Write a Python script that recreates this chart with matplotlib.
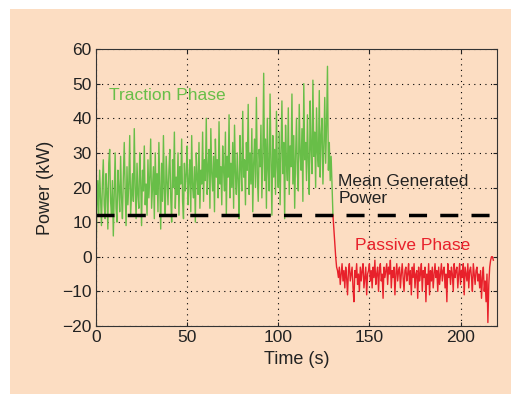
import numpy as np
import matplotlib
matplotlib.use("Agg")
import matplotlib.pyplot as plt
from matplotlib.patches import Rectangle

# Power samples, 0.5 s apart
traction_power = [
    0, 14, 22, 12, 25, 17, 9, 21, 28, 15, 11, 24, 19, 8, 27, 31, 16, 12, 22, 6,
    18, 30, 14, 10, 25, 20, 13, 29, 17, 11, 23, 33, 19, 9, 26, 15, 21, 35, 12, 18,
    24, 16, 37, 20, 11, 27, 18, 14, 30, 22, 9, 25, 19, 32, 15, 21, 12, 28, 17, 23,
    34, 14, 20, 26, 11, 30, 18, 24, 13, 33, 21, 8, 27, 16, 35, 19, 12, 29, 22, 15,
    25, 31, 17, 10, 28, 20, 36, 14, 23, 18, 30, 12, 26, 21, 34, 16, 11, 27, 19, 24,
    32, 15, 22, 28, 13, 35, 20, 17, 26, 10, 30, 23, 18, 33, 14, 25, 21, 36, 16, 28,
    22, 40, 18, 26, 31, 14, 37, 24, 19, 29, 13, 34, 23, 28, 17, 39, 21, 26, 15, 32,
    25, 19, 36, 12, 29, 23, 41, 17, 27, 20, 33, 14, 38, 24, 18, 30, 22, 11, 35, 26,
    19, 42, 23, 28, 15, 33, 25, 44, 18, 30, 21, 37, 13, 27, 34, 20, 46, 24, 16, 31,
    26, 38, 17, 29, 53, 22, 34, 14, 40, 25, 19, 47, 28, 12, 35, 23, 31, 18, 42, 26,
    20, 36, 15, 30, 45, 24, 33, 11, 38, 27, 22, 43, 18, 32, 26, 47, 21, 35, 14, 29,
    40, 24, 19, 44, 30, 25, 37, 16, 50, 28, 33, 22, 41, 27, 18, 45, 31, 24, 51, 29,
    36, 20, 43, 30, 26, 48, 23, 35, 40, 21, 32, 46, 27, 38, 55, 25, 33, 22, 29, 20,
    12,
]
passive_power = [
    12, 8, 4, 0, -3, -4, -6, -3, -8, -5, -2, -7, -4, -9, -3, -6, -11, -4, -2, -7,
    -5, -3, -9, -13, -4, -6, -2, -8, -5, -10, -3, -7, -4, -2, -9, -6, -3, -11, -5, -4,
    -2, -7, -4, -9, -3, -6, -1, -8, -5, -3, -10, -4, -2, -7, -5, -12, -3, -6, -4, -2,
    -8, -3, -5, -1, -9, -4, -6, -3, -11, -5, -2, -7, -4, -3, -9, -5, -2, -6, -10, -4,
    -3, -7, -5, -2, -8, -4, -11, -3, -6, -2, -9, -5, -4, -12, -3, -7, -5, -2, -10, -4,
    -6, -3, -13, -5, -8, -2, -11, -4, -7, -3, -9, -5, -2, -6, -4, -10, -3, -8, -5, -2,
    -7, -4, -3, -9, -5, -13, -2, -6, -4, -8, -3, -5, -10, -2, -6, -4, -3, -9, -5, -2,
    -8, -4, -6, -2, -11, -3, -5, -7, -2, -9, -4, -3, -6, -10, -2, -5, -8, -4, -3, -7,
    -5, -9, -4, -12, -6, -3, -10, -7, -13, -5, -19, -8, -3, -1, 0, 0, -1,
]
mean_power = 12
t_traction = 0.5 * np.arange(len(traction_power))
t_passive = 130 + 0.5 * np.arange(len(passive_power))

plt.rcParams['font.family'] = ['Liberation Sans', 'DejaVu Sans']
peach = "#FCDDC2"
ink = "#222222"

fig = plt.figure(figsize=(5.11, 3.94), dpi=100, facecolor="white")
fig.patches.append(Rectangle((10 / 511, 0), 1, 1 - 9 / 394, transform=fig.transFigure,
                             facecolor=peach, edgecolor="none", zorder=-10))
ax = fig.add_axes([96 / 511, 1 - 326 / 394, 401 / 511, 277 / 394])
ax.set_facecolor(peach)

ax.plot(t_traction, traction_power, color="#68BE48", lw=1.0)
ax.plot(t_passive, passive_power, color="#E8212B", lw=1.0)
ax.axhline(mean_power, color="black", lw=2.5, ls=(0, (5.2, 3.8)))

ax.text(7, 46.5, "Traction Phase", color="#68BE48", fontsize=12.5, va="center")
ax.text(133, 19.3, "Mean Generated\nPower", color=ink, fontsize=12.5,
        va="center", linespacing=1.1)
ax.text(142, 3.2, "Passive Phase", color="#E8212B", fontsize=12.5, va="center")

ax.set_xlim(0, 220)
ax.set_ylim(-20, 60)
ax.set_xticks([0, 50, 100, 150, 200])
ax.set_yticks(range(-20, 61, 10))
ax.set_yticklabels(["\u221220", "\u221210", "0", "10", "20", "30", "40", "50", "60"])
ax.tick_params(direction="in", top=True, right=True, labelsize=12.5, length=3,
               colors=ink, pad=3)
ax.grid(True, ls=(0, (1, 4)), color="black", lw=0.8)
for s in ax.spines.values():
    s.set_color("#333333")
ax.set_xlabel("Time (s)", fontsize=13, color=ink, labelpad=4)
ax.set_ylabel("Power (kW)", fontsize=13, color=ink, labelpad=6)

fig.savefig("out.png", dpi=100, facecolor=fig.get_facecolor())
